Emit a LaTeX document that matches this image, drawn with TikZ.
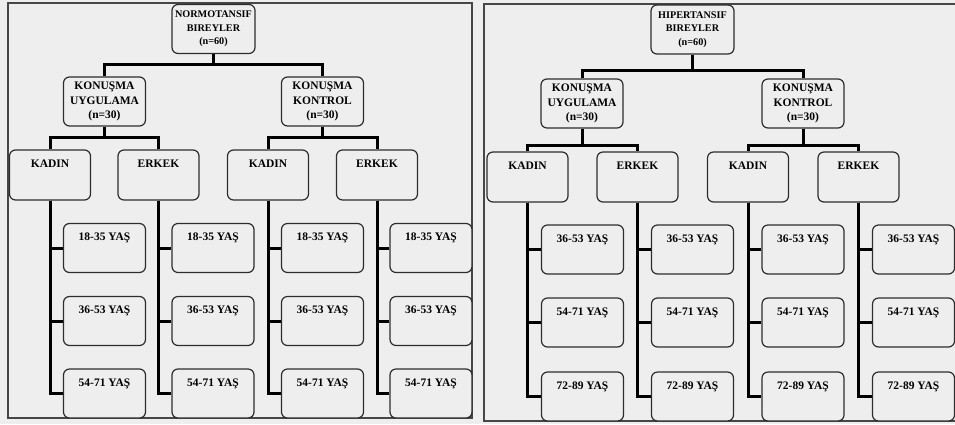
\documentclass[tikz,border=0pt]{standalone}
\usepackage{fontspec}
\setmainfont{Liberation Serif}
\usetikzlibrary{positioning}
\definecolor{paper}{RGB}{238,238,238}
\definecolor{framegray}{RGB}{70,70,70}
\definecolor{boxline}{RGB}{45,45,45}

\begin{document}
\begin{tikzpicture}[x=1pt,y=-1pt,
      font=\bfseries\fontsize{11.5}{14.5}\selectfont,
      panel/.style={draw=framegray,line width=1.2pt},
      box/.style={draw=boxline,fill=paper,line width=1.2pt,rounded corners=6pt,inner sep=2pt},
      head/.style={box,align=center,minimum width=83pt,minimum height=49pt,
                   font=\bfseries\fontsize{10.2}{13.5}\selectfont},
      group/.style={box,align=center,minimum width=82pt,minimum height=49pt},
      sexbox/.style={box,minimum width=81pt,text height=13pt,text depth=29pt,inner ysep=4pt},
      agebox/.style={box,minimum width=82pt,text height=13pt,text depth=28pt,inner ysep=4pt},
      link/.style={line width=3pt}]
    \useasboundingbox (0,0) rectangle (955,424);
    \fill[paper] (0,0) rectangle (955,424);
    \draw[panel] (8,3) rectangle (472,418);
    \draw[panel] (484,4) rectangle (962,421);

    % normotansif
    \node[head] (nroot) at (213.5,29) {NORMOTANSIF\\BIREYLER\\(n=60)};
    \node[group] (nuyg) at (104.5,101.5) {KONUŞMA\\UYGULAMA\\(n=30)};
    \node[group] (nkon) at (322.5,101.5) {KONUŞMA\\KONTROL\\(n=30)};
    \node[sexbox] (nuk) at (50,175) {KADIN};
    \node[sexbox] (nue) at (158.5,175) {ERKEK};
    \node[sexbox] (nkk) at (268,175) {KADIN};
    \node[sexbox] (nke) at (377,175) {ERKEK};
    \draw[link] (nroot.south) -- ++(0,10) -| (nuyg.north);
    \draw[link] (nroot.south) -- ++(0,10) -| (nkon.north);
    \draw[link] (nuyg.south) -- ++(0,11) -| (nuk.north);
    \draw[link] (nuyg.south) -- ++(0,11) -| (nue.north);
    \draw[link] (nkon.south) -- ++(0,11) -| (nkk.north);
    \draw[link] (nkon.south) -- ++(0,11) -| (nke.north);
    \foreach \sx/\cx in {nuk/104.5,nue/213,nkk/322.5,nke/431}
      \foreach \ages/\cy [count=\i] in {18-35/248,36-53/321,54-71/393.5} {
        \node[agebox] (\sx\i) at (\cx,\cy) {\ages\ YAŞ};
        \draw[link] (\sx.south) |- (\sx\i.west);
      }

    % hipertansif
    \node[head] (hroot) at (692.5,29.5) {HIPERTANSIF\\BIREYLER\\(n=60)};
    \node[group] (huyg) at (582,103.5) {KONUŞMA\\UYGULAMA\\(n=30)};
    \node[group] (hkon) at (803,103.5) {KONUŞMA\\KONTROL\\(n=30)};
    \node[sexbox] (huk) at (527.5,177) {KADIN};
    \node[sexbox] (hue) at (637.5,177) {ERKEK};
    \node[sexbox] (hkk) at (748,177) {KADIN};
    \node[sexbox] (hke) at (858.5,177) {ERKEK};
    \draw[link] (hroot.south) -- ++(0,16) -| (huyg.north);
    \draw[link] (hroot.south) -- ++(0,16) -| (hkon.north);
    \draw[link] (huyg.south) -- ++(0,17) -| (huk.north);
    \draw[link] (huyg.south) -- ++(0,17) -| (hue.north);
    \draw[link] (hkon.south) -- ++(0,17) -| (hkk.north);
    \draw[link] (hkon.south) -- ++(0,17) -| (hke.north);
    \foreach \sx/\cx in {huk/582.5,hue/692.5,hkk/803,hke/913.5}
      \foreach \ages/\cy [count=\i] in {36-53/249.5,54-71/322.5,72-89/396.5} {
        \node[agebox] (\sx\i) at (\cx,\cy) {\ages\ YAŞ};
        \draw[link] (\sx.south) |- (\sx\i.west);
      }
  \end{tikzpicture}
\end{document}
